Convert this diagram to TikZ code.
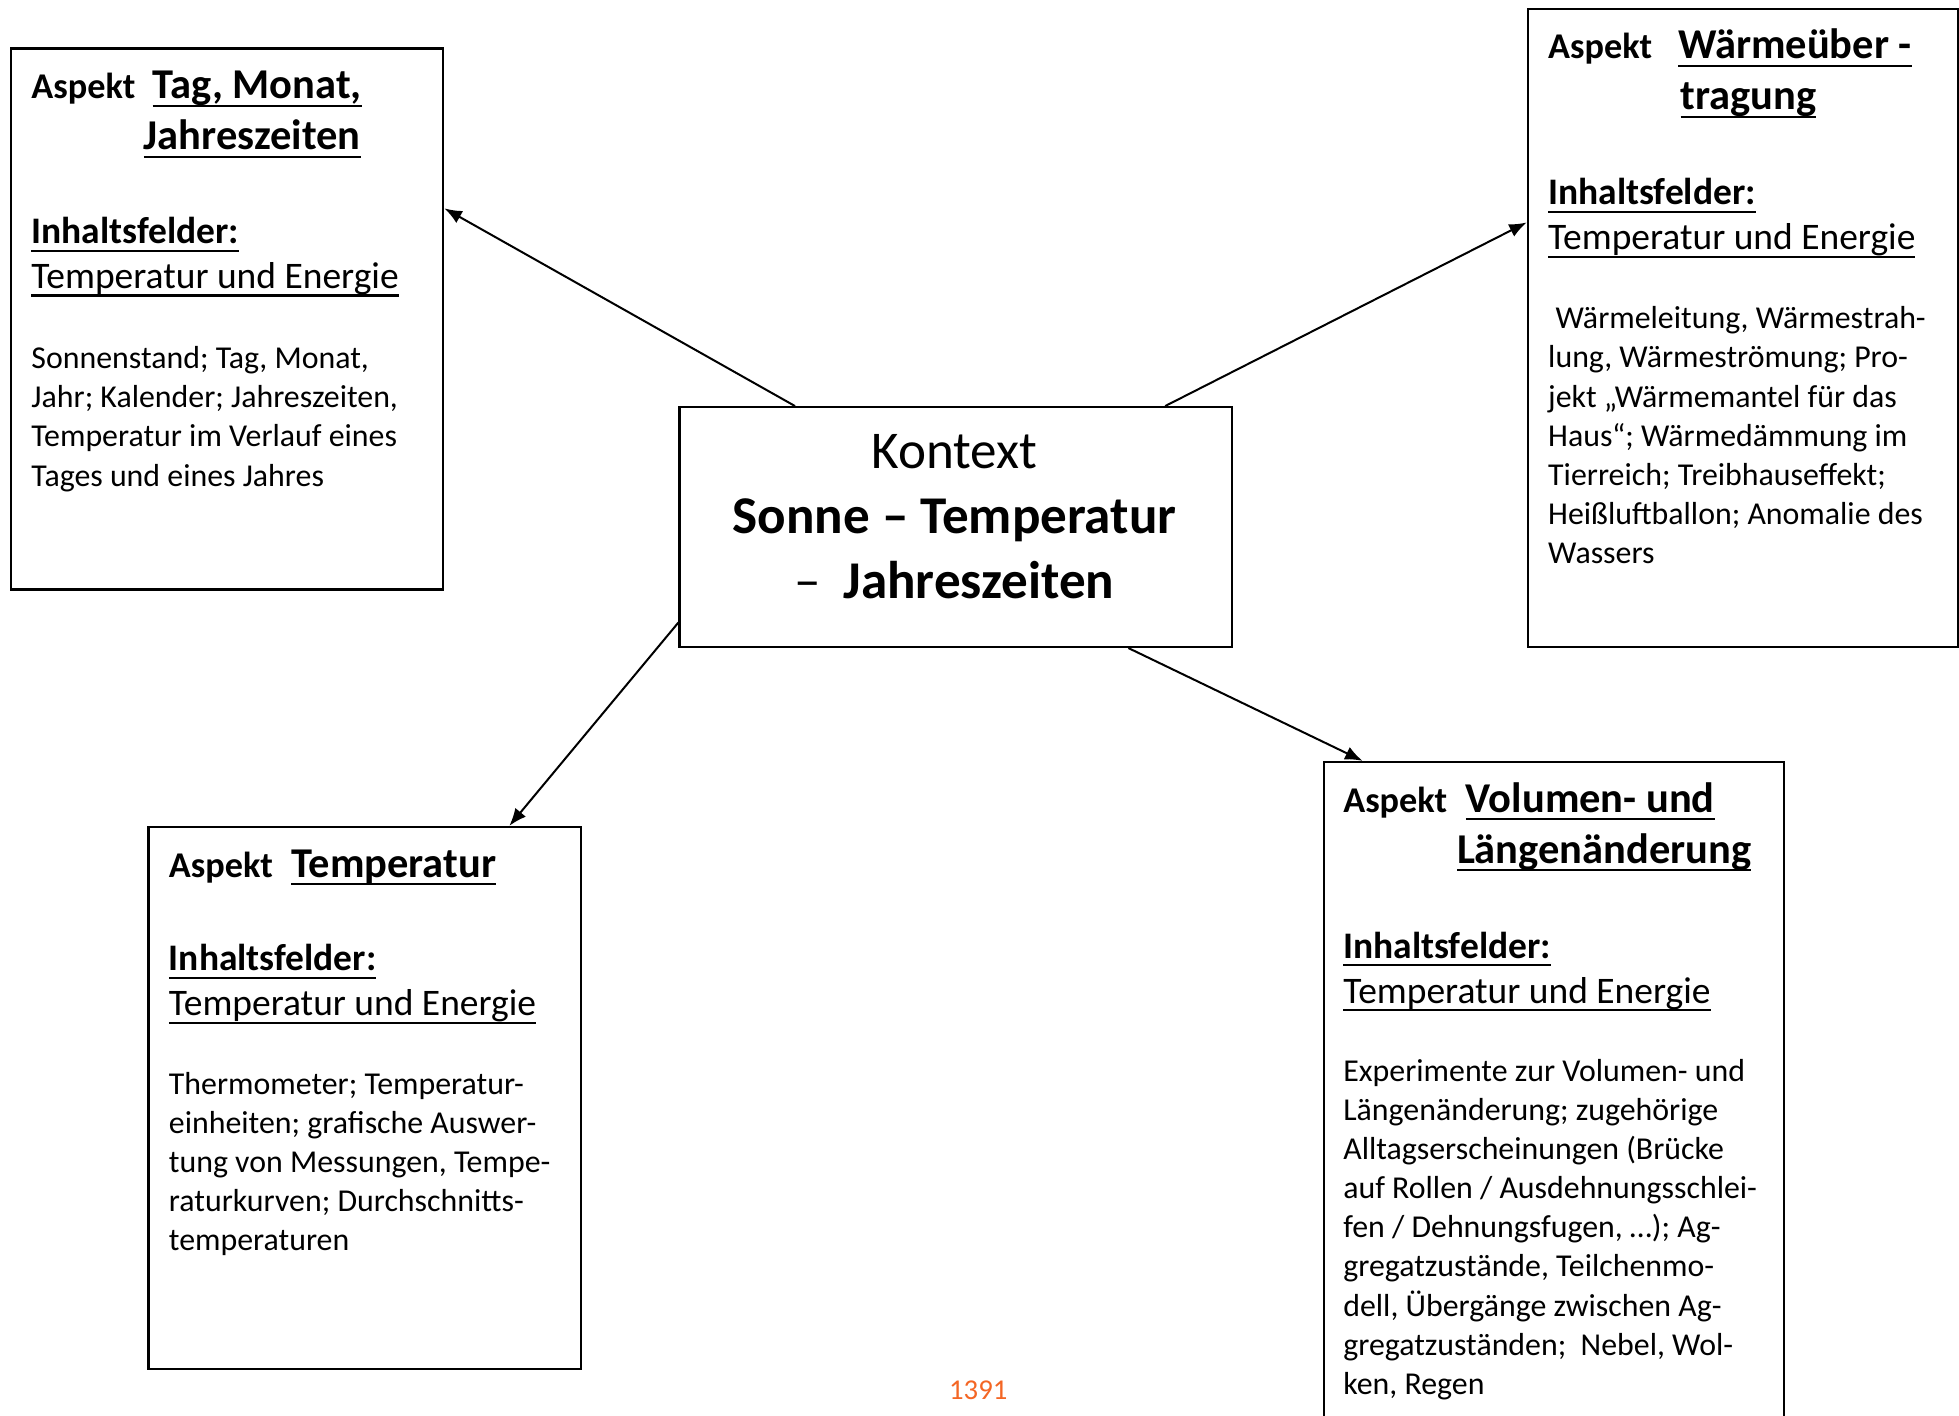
\documentclass[tikz,border=0pt]{standalone}
\usepackage{fontspec}
\setmainfont{Carlito}
\usetikzlibrary{arrows.meta}
\definecolor{seitenzahl}{RGB}{244,102,36}
\newlength{\unterbreite}
\newcommand{\unter}[1]{\settowidth{\unterbreite}{#1}\rlap{#1}\rule[-6.5pt]{\unterbreite}{1.8pt}}

\tikzset{
	kasten/.style={draw, line width=1.7pt, inner sep=0, anchor=north west},
	zeile/.style={anchor=base west, inner sep=0, align=left},
	aspekt/.style={zeile, font=\bfseries\fontsize{29}{35}\selectfont},
	thema/.style={zeile, font=\bfseries\fontsize{34}{41}\selectfont},
	feld/.style={zeile, font=\bfseries\fontsize{30}{37}\selectfont},
	feldname/.style={zeile, font=\fontsize{30}{37}\selectfont},
	inhalt/.style={zeile, font=\fontsize{25.5}{31.3}\selectfont},
	pfeil/.style={line width=1.6pt, -{Latex[length=14pt,width=11pt]}}
}

\begin{document}
\begin{tikzpicture}[x=1pt, y=-1pt]

	\clip (0,0) rectangle (1568,1133);
	\fill[white] (0,0) rectangle (1568,1133);

	\node[kasten, minimum width=346pt, minimum height=433pt] (tag) at (8,38) {};
	\node[kasten, minimum width=344pt, minimum height=511pt] (waerme) at (1222,6) {};
	\node[kasten, minimum width=442pt, minimum height=192pt] (kontext) at (543,325) {};
	\node[kasten, minimum width=346pt, minimum height=434pt] (temp) at (118,661) {};
	\node[kasten, minimum width=368pt, minimum height=551pt] (volumen) at (1059,609) {};

	\node[anchor=base, inner sep=0, align=center, font=\fontsize{42.5}{52}\selectfont] (kontexttext) at (764,479)
		{Kontext\\\textbf{Sonne – Temperatur}\\–\hspace{18pt}\textbf{Jahreszeiten}};

	\node[aspekt] (tagasp) at (25,79) {Aspekt};
	\node[thema] (tagthema1) at (122,79) {\unter{Tag, Monat,}};
	\node[thema] (tagthema2) at (115,120) {\unter{Jahreszeiten}};
	\node[feld] (tagfeld) at (25,195) {\unter{Inhaltsfelder:}};
	\node[feldname] (tagname) at (25,231) {\unter{Temperatur und Energie}};
	\node[inhalt] (taginhalt) at (25,389) {Sonnenstand; Tag, Monat,\\Jahr; Kalender; Jahreszeiten,\\Temperatur im Verlauf eines\\Tages und eines Jahres};

	\node[aspekt] (waermeasp) at (1239,47) {Aspekt};
	\node[thema] (waermethema1) at (1343,47) {\unter{Wärmeüber -}};
	\node[thema] (waermethema2) at (1345,88) {\unter{tragung}};
	\node[feld] (waermefeld) at (1239,164) {\unter{Inhaltsfelder:}};
	\node[feldname] (waermename) at (1239,200) {\unter{Temperatur und Energie}};
	\node[inhalt] (waermeinhalt) at (1239,451) {\hspace*{6pt}Wärmeleitung, Wärmestrah-\\lung, Wärmeströmung; Pro-\\jekt „Wärmemantel für das\\Haus“; Wärmedämmung im\\Tierreich; Treibhauseffekt;\\Heißluftballon; Anomalie des\\Wassers};

	\node[aspekt] (tempasp) at (135,702) {Aspekt};
	\node[thema] (tempthema) at (233,702) {\unter{Temperatur}};
	\node[feld] (tempfeld) at (135,777) {\unter{Inhaltsfelder:}};
	\node[feldname] (tempname) at (135,813) {\unter{Temperatur und Energie}};
	\node[inhalt] (tempinhalt) at (135,1001) {Thermometer; Temperatur-\\einheiten; grafische Auswer-\\tung von Messungen, Tempe-\\raturkurven; Durchschnitts-\\temperaturen};

	\node[aspekt] (volasp) at (1075,650) {Aspekt};
	\node[thema] (volthema1) at (1173,650) {\unter{Volumen- und}};
	\node[thema] (volthema2) at (1166,691) {\unter{Längenänderung}};
	\node[feld] (volfeld) at (1075,767) {\unter{Inhaltsfelder:}};
	\node[feldname] (volname) at (1075,803) {\unter{Temperatur und Energie}};
	\node[inhalt] (volinhalt) at (1075,1116) {Experimente zur Volumen- und\\Längenänderung; zugehörige\\Alltagserscheinungen (Brücke\\auf Rollen / Ausdehnungsschlei-\\fen / Dehnungsfugen, …); Ag-\\gregatzustände, Teilchenmo-\\dell, Übergänge zwischen Ag-\\gregatzuständen; \ Nebel, Wol-\\ken, Regen};

	\node[anchor=base, inner sep=0, text=seitenzahl, font=\fontsize{23}{28}\selectfont] (seite) at (783,1120) {1391};

	\draw[pfeil] (kontext.143.8) -- (tag.27.1);
	\draw[pfeil] (kontext.30.3) -- (waerme.154.4);
	\draw[pfeil] (kontext.199.2) -- (temp.62.5);
	\draw[pfeil] (kontext.-35.2) -- (volumen.119.4);
\end{tikzpicture}
\end{document}
